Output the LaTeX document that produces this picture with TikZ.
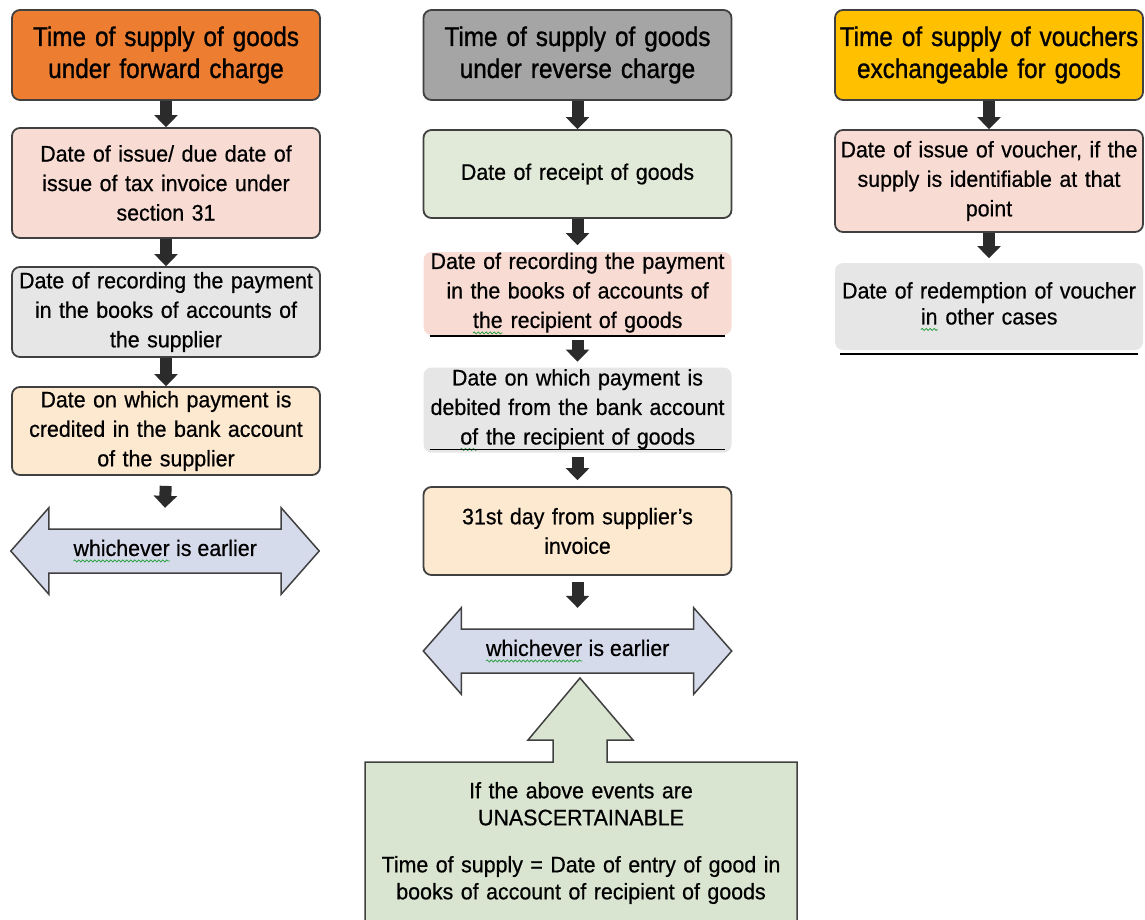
\documentclass[tikz,border=0pt]{standalone}
\usepackage{fontspec}
\setmainfont{Liberation Sans}[FakeStretch=0.95, FakeBold=0.6]
\newfontfamily\headfont{Liberation Sans}[FakeStretch=0.9, FakeBold=1.1]
\usetikzlibrary{arrows.meta,calc,backgrounds,decorations.pathmorphing}

\definecolor{hdorange}{HTML}{ED7D31}
\definecolor{hdgray}{HTML}{A5A5A5}
\definecolor{hdyellow}{HTML}{FFC000}
\definecolor{bxpink}{HTML}{F8DCD4}
\definecolor{bxgray}{HTML}{E6E6E6}
\definecolor{bxpeach}{HTML}{FDE8D0}
\definecolor{bxgreen}{HTML}{E1EAD8}
\definecolor{dblfill}{HTML}{D6DBEC}
\definecolor{callfill}{HTML}{DAE5D1}
\definecolor{edge}{HTML}{404040}
\definecolor{flow}{HTML}{2B2B2B}
\definecolor{spell}{HTML}{2EA043}

% green wavy underline under a word
\newcommand\spellwave[1]{\tikz[baseline=(wv.base), sharp corners]{%
  \node[draw=none, fill=none, inner sep=0pt, outer sep=0pt, text width=,
        minimum width=0pt, minimum height=0pt, align=left] (wv) {#1};%
  \draw[spell, line width=0.8pt, sharp corners, decorate,
        decoration={snake, amplitude=1pt, segment length=4pt}]
    ([yshift=-5pt]wv.base west) -- ([yshift=-5pt]wv.base east);}}

\tikzset{
  hdr/.style={draw=edge, line width=1.8pt, rounded corners=8pt,
    minimum width=308pt, minimum height=90pt, inner sep=0pt,
    text width=304pt, align=center, font=\headfont\fontsize{27}{32}\selectfont},
  bx/.style={draw=edge, line width=1.8pt, rounded corners=8pt,
    minimum width=308pt, minimum height=90pt, inner sep=0pt,
    text width=304pt, align=center, font=\fontsize{22.5}{29.5}\selectfont},
  plainbx/.style={bx, draw=none},
  baserule/.style={draw=black, line width=1.8pt},
  flowarrow/.style={draw=flow, line width=12pt, -{Triangle[width=23pt,length=12pt]}},
  dbltext/.style={minimum width=308pt, minimum height=86pt, inner sep=0pt,
    font=\fontsize{22.5}{29.5}\selectfont},
  dblshape/.style={fill=dblfill, draw=edge, line width=1.5pt, line join=miter},
  callout/.style={fill=callfill, draw=edge, line width=1.5pt, line join=miter},
}

\begin{document}
\begin{tikzpicture}[x=1pt, y=-1pt]
\useasboundingbox (0,0) rectangle (1145,919);

% ---------- forward charge ----------
\node[hdr, fill=hdorange] (f0) at (166,55) {Time of supply of goods\\under forward charge};
\node[bx, fill=bxpink, minimum height=110pt] (f1) at (166,183)
  {Date of issue/ due date of\\issue of tax invoice under\\section 31};
\node[bx, fill=bxgray] (f2) at (166,312)
  {Date of recording the payment\\in the books of accounts of\\the supplier};
\node[bx, fill=bxpeach, minimum height=88pt] (f3) at (166,431)
  {Date on which payment is\\credited in the bank account\\of the supplier};
\node[dbltext] (f4) at (165,551) {\spellwave{whichever} is earlier};

\draw[flowarrow] (f0.south) -- (f1.north);
\draw[flowarrow] (f1.south) -- (f2.north);
\draw[flowarrow] (f2.south) -- (f3.north);
\draw[flowarrow, shorten <=10pt] (f3.south) -- (f4.north);

% ---------- reverse charge ----------
\node[hdr, fill=hdgray] (r0) at (577.5,55) {Time of supply of goods\\under reverse charge};
\node[bx, fill=bxgreen, minimum height=88pt] (r1) at (577.5,174) {Date of receipt of goods};
\node[plainbx, fill=bxpink, minimum height=83pt] (r2) at (577.5,293.5)
  {Date of recording the payment\\in the books of accounts of\\\spellwave{the} recipient of goods};
\draw[baserule] ($(r2.south west)+(7,0)$) -- ($(r2.south east)+(-7,0)$);
\node[plainbx, fill=bxgray, minimum height=85pt] (r3) at (577.5,410)
  {Date on which payment is\\debited from the bank account\\\spellwave{of} the recipient of goods};
\draw[baserule] ($(r3.south west)+(7,-4)$) -- ($(r3.south east)+(-7,-4)$);
\node[bx, fill=bxpeach, minimum height=88pt] (r4) at (577.5,531)
  {31st day from supplier's\\invoice};
\node[dbltext] (r5) at (577.5,651) {\spellwave{whichever} is earlier};
\node[text width=420pt, align=center, inner sep=0pt,
      font=\fontsize{22.5}{27}\selectfont] (r6) at (581,843)
  {If the above events are\\UNASCERTAINABLE\\[20pt]Time of supply = Date of entry of good in\\books of account of recipient of goods};

\draw[flowarrow] (r0.south) -- (r1.north);
\draw[flowarrow, shorten >=6pt] (r1.south) -- (r2.north);
\draw[flowarrow, shorten <=4pt, shorten >=5pt] (r2.south) -- (r3.north);
\draw[flowarrow, shorten <=4pt, shorten >=6pt] (r3.south) -- (r4.north);
\draw[flowarrow, shorten <=6pt] (r4.south) -- (r5.north);

% ---------- vouchers ----------
\node[hdr, fill=hdyellow] (v0) at (989,55) {Time of supply of vouchers\\exchangeable for goods};
\node[bx, fill=bxpink, minimum height=102pt] (v1) at (989,181)
  {Date of issue of voucher, if the\\supply is identifiable at that\\point};
\node[plainbx, fill=bxgray, minimum height=87pt, font=\fontsize{22.5}{26}\selectfont] (v2) at (989,306.5)
  {Date of redemption of voucher\\\spellwave{in} other cases};
\draw[baserule] ($(v2.south west)+(6,3)$) -- ($(v2.south east)+(-6,3)$);

\draw[flowarrow] (v0.south) -- (v1.north);
\draw[flowarrow, shorten >=4pt] (v1.south) -- (v2.north);

% ---------- block arrows behind the texts ----------
\begin{scope}[on background layer]
  \foreach \n in {f4,r5} {
    \draw[dblshape] (\n.west) -- ($(\n.north west)+(38,0)$) -- ($(\n.west)+(38,-22)$)
      -- ($(\n.east)+(-38,-22)$) -- ($(\n.north east)+(-38,0)$) -- (\n.east)
      -- ($(\n.south east)+(-38,0)$) -- ($(\n.east)+(-38,22)$)
      -- ($(\n.west)+(38,22)$) -- ($(\n.south west)+(38,0)$) -- cycle;
  }
  % callout box with its arrow pointing up
  \draw[callout] (365,762) -- (553,762) -- (553,740) -- (528,740) -- (580,678)
    -- (633,740) -- (607,740) -- (607,762) -- (797,762) -- (797,922)
    -- (365,922) -- cycle;
\end{scope}
\end{tikzpicture}
\end{document}
